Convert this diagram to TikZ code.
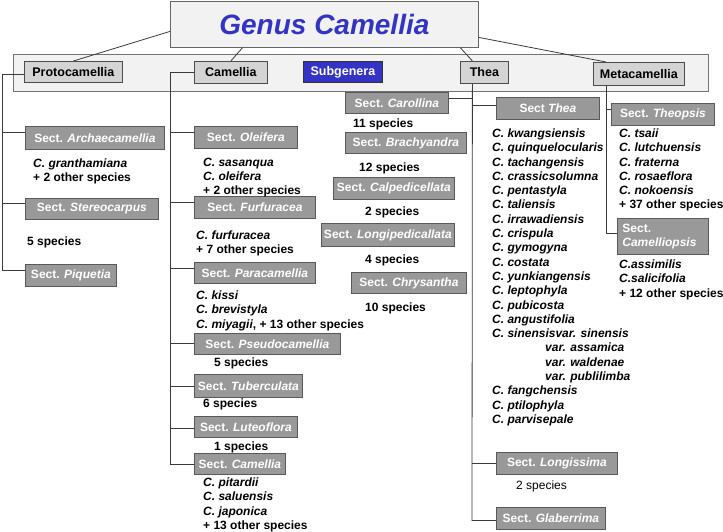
\documentclass[tikz,border=0pt]{standalone}
\usepackage{fontspec}
\setmainfont{Liberation Sans}
\definecolor{genblue}{HTML}{3333C4}
\definecolor{linegray}{HTML}{3A3A3A}
\begin{document}
\begin{tikzpicture}[x=1pt,y=-1pt,
  link/.style={draw=linegray,line width=0.8pt},
  genusbox/.style={draw=black!60,fill=black!5,line width=0.8pt,anchor=north west,inner sep=0pt,
    minimum width=308pt,minimum height=46pt,text=genblue,
    font=\fontsize{28}{30}\selectfont\bfseries\itshape},
  subbox/.style={draw=black!70,fill=black!17,line width=0.8pt,anchor=north west,inner sep=0pt,
    font=\fontsize{12.5}{14}\selectfont\bfseries},
  sectbox/.style={draw=black!65,fill=black!40,line width=0.8pt,anchor=north west,inner sep=0pt,
    text=white,font=\fontsize{12}{14}\selectfont\bfseries},
  spp/.style={anchor=north west,inner sep=0pt,align=left,
    font=\fontsize{12}{14.3}\selectfont\bfseries}]
\useasboundingbox (0,0) rectangle (723,531);
\draw[draw=black!55,fill=black!5,line width=0.8pt] (13,54) rectangle (708,91);

\node[genusbox] (genus) at (170,1) {Genus Camellia};

\node[subbox,minimum width=98pt,minimum height=21pt] (proto) at (24,61) {Protocamellia};
\node[subbox,minimum width=73pt,minimum height=22pt] (cam) at (194,61) {Camellia};
\node[subbox,fill=genblue,draw=black!80,text=white,minimum width=79pt,minimum height=21pt] (subg) at (303,61) {Subgenera};
\node[subbox,minimum width=48pt,minimum height=22pt] (thea) at (460,61) {Thea};
\node[subbox,minimum width=91pt,minimum height=23pt] (meta) at (593,62) {Metacamellia};

\node[sectbox,minimum width=139pt,minimum height=23pt] (archae) at (25,126) {Sect. \textit{Archaecamellia}};
\node[sectbox,minimum width=133pt,minimum height=21pt] (stereo) at (25,198) {Sect. \textit{Stereocarpus}};
\node[sectbox,minimum width=91pt,minimum height=22pt] (piq) at (25,264) {Sect. \textit{Piquetia}};
\node[spp] (archaesp) at (33,158.5) {\textit{C. granthamiana}\\+ 2 other species};
\node[spp] (stereosp) at (27,236.5) {5 species};

\node[sectbox,minimum width=103pt,minimum height=22pt] (olei) at (194,126) {Sect. \textit{Oleifera}};
\node[sectbox,minimum width=121pt,minimum height=22pt] (furf) at (194,196) {Sect. \textit{Furfuracea}};
\node[sectbox,minimum width=121pt,minimum height=21pt] (parac) at (194,262) {Sect. \textit{Paracamellia}};
\node[sectbox,minimum width=146pt,minimum height=21pt] (pseudo) at (194,333) {Sect. \textit{Pseudocamellia}};
\node[sectbox,minimum width=108pt,minimum height=23pt] (tuber) at (194,374) {Sect. \textit{Tuberculata}};
\node[sectbox,minimum width=103pt,minimum height=21pt] (lute) at (194,416) {Sect. \textit{Luteoflora}};
\node[sectbox,minimum width=91pt,minimum height=21pt] (scam) at (194,453) {Sect. \textit{Camellia}};
\node[spp] (oleisp) at (203,157.5) {\textit{C. sasanqua}\\\textit{C. oleifera}\\+ 2 other species};
\node[spp] (furfsp) at (196,230.5) {\textit{C. furfuracea}\\+ 7 other species};
\node[spp] (paracsp) at (196,290.5) {\textit{C. kissi}\\\textit{C. brevistyla}\\\textit{C. miyagii}, + 13 other species};
\node[spp] (pseudosp) at (214,357.5) {5 species};
\node[spp] (tubersp) at (203,398.5) {6 species};
\node[spp] (lutesp) at (214,441.5) {1 species};
\node[spp] (scamsp) at (203,477.5) {\textit{C. pitardii}\\\textit{C. saluensis}\\\textit{C. japonica}\\+ 13 other species};

\node[sectbox,minimum width=103pt,minimum height=21pt] (caro) at (345,92) {Sect. \textit{Carollina}};
\node[sectbox,minimum width=121pt,minimum height=21pt] (brach) at (345,132) {Sect. \textit{Brachyandra}};
\node[sectbox,minimum width=121pt,minimum height=22pt] (calp) at (333,177) {Sect. \textit{Calpedicellata}};
\node[sectbox,minimum width=133pt,minimum height=23pt] (longip) at (321,223) {Sect. \textit{Longipedicallata}};
\node[sectbox,minimum width=115pt,minimum height=21pt] (chrys) at (351,272) {Sect. \textit{Chrysantha}};
\node[spp] (carosp) at (353,118.5) {11 species};
\node[spp] (brachsp) at (359,162.5) {12 species};
\node[spp] (calpsp) at (365,206.5) {2 species};
\node[spp] (longipsp) at (365,254.5) {4 species};
\node[spp] (chryssp) at (365,302.5) {10 species};

\node[sectbox,minimum width=103pt,minimum height=22pt] (sthea) at (496,97) {Sect \textit{Thea}};
\node[sectbox,minimum width=121pt,minimum height=22pt] (longis) at (496,452) {Sect. \textit{Longissima}};
\node[sectbox,minimum width=109pt,minimum height=22pt] (glab) at (496,507) {Sect. \textit{Glaberrima}};
\node[spp,font=\fontsize{12}{14.3}\selectfont\itshape\bfseries] (stheasp) at (492,128.5)
  {C. kwangsiensis\\C. quinquelocularis\\C. tachangensis\\C. crassicsolumna\\C. pentastyla\\
   C. taliensis\\C. irrawadiensis\\C. crispula\\C. gymogyna\\C. costata\\C. yunkiangensis\\
   C. leptophyla\\C. pubicosta\\C. angustifolia\\C. sinensisvar. sinensis\\
   \hspace*{53pt}var. assamica\\\hspace*{53pt}var. waldenae\\\hspace*{53pt}var. publilimba\\
   C. fangchensis\\C. ptilophyla\\C. parvisepale};
\node[spp,font=\fontsize{12}{14.3}\selectfont] (longissp) at (516,480.5) {2 species};

\node[sectbox,minimum width=103pt,minimum height=22pt] (theop) at (611,103) {Sect. \textit{Theopsis}};
\node[sectbox,align=left,text width=81pt,inner xsep=5pt,minimum height=36pt] (camop) at (617,218) {Sect.\\\textit{Camelliopsis}};
\node[spp] (theopsp) at (619,128.5) {\textit{C. tsaii}\\\textit{C. lutchuensis}\\\textit{C. fraterna}\\\textit{C. rosaeflora}\\\textit{C. nokoensis}\\+ 37 other species};
\node[spp] (camopsp) at (619,259.5) {\textit{C.assimilis}\\\textit{C.salicifolia}\\+ 12 other species};

\draw[link] ([yshift=-7pt]genus.west) -- (proto.north);
\draw[link] ([xshift=-82pt]genus.south) -- (cam.north);
\draw[link] ([xshift=136pt]genus.south) -- ([xshift=-12pt]thea.north);
\draw[link] ([yshift=-13pt]genus.east) -- ([xshift=13pt]meta.north west);

\draw[link] ([yshift=-2pt]proto.west) -| ([xshift=-23pt,yshift=5pt]piq.west) -- ([yshift=5pt]piq.west);
\foreach \s in {archae,stereo}
  \draw[link] ([yshift=5.5pt]\s.west) -- ++(-23,0);

\draw[link] (cam.west) -| ([xshift=-24pt]scam.west) -- (scam.west);
\foreach \s/\d in {olei/5,furf/5,parac/5,pseudo/1,tuber/0,lute/-1}
  \draw[link] ([yshift=\d pt]\s.west) -- ++(-24,0);

\draw[link] ([xshift=-12pt]thea.south) -- ([xshift=-24pt,yshift=-2pt]glab.west) -- ([yshift=-2pt]glab.west);
\draw[link] ([yshift=5pt]caro.east) -- ++(24,0);
\draw[link] ([yshift=3pt]sthea.west) -- ++(-24,0);
\draw[link] (longis.west) -- ++(-24,0);

\draw[link] ([xshift=13pt]meta.south west) -- ([xshift=-11pt,yshift=3pt]camop.west) -- ([yshift=3pt]camop.west);
\draw[link] ([yshift=5pt]theop.west) -- ++(-5,0);
\end{tikzpicture}
\end{document}
